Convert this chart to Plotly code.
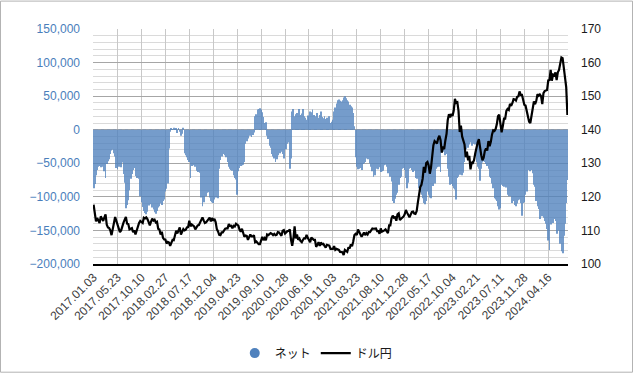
import pandas as pd
import plotly.graph_objects as go

# ---- data -------------------------------------------------------------
start_date = "2017-01-03"
n_weeks = 397
dates = pd.date_range(start_date, periods=n_weeks, freq="7D").strftime("%Y.%m.%d").tolist()

tick_labels = ["2017.01.03", "2017.05.23", "2017.10.10", "2018.02.27", "2018.07.17",
               "2018.12.04", "2019.04.23", "2019.09.10", "2020.01.28", "2020.06.16",
               "2020.11.03", "2021.03.23", "2021.08.10", "2021.12.28", "2022.05.17",
               "2022.10.04", "2023.02.21", "2023.07.11", "2023.11.28", "2024.04.16"]

# ドル円 (weekly)
usdjpy_2017 = [117.7, 115.8, 112.7, 113.7, 112.8, 112.2, 114.2, 113.5, 112.8, 113.9, 114.8, 111.7, 110.9,
               110.7, 110.0, 108.6, 111.1, 112.2, 114.0, 112.8, 111.6, 110.8, 109.5, 110.0, 111.5, 112.3,
               113.2, 114.0, 112.0, 111.9, 110.3, 110.6, 110.7, 109.5, 110.0, 108.8, 110.1, 111.5, 112.2,
               112.8, 112.5, 112.2, 113.8, 113.6, 113.9, 113.4, 112.5, 111.5, 112.6, 113.5, 112.9, 113.2]
usdjpy_2018 = [112.4, 112.6, 110.5, 110.3, 108.8, 109.6, 107.8, 107.3, 107.3, 106.1, 106.6, 106.4, 105.4,
               106.6, 107.2, 107.1, 108.8, 109.9, 109.1, 110.3, 110.9, 108.8, 109.8, 110.4, 110.0, 110.2,
               110.9, 111.0, 112.9, 111.2, 111.8, 111.4, 111.2, 110.3, 111.1, 111.5, 111.6, 112.3, 112.9,
               113.9, 113.0, 112.2, 112.4, 113.0, 113.3, 113.8, 112.7, 113.7, 112.9, 113.4, 112.5, 110.4]
usdjpy_2019 = [109.7, 108.7, 108.6, 109.4, 109.4, 109.9, 110.5, 110.6, 110.6, 111.9, 111.3, 111.4, 110.6,
               111.4, 111.2, 112.0, 111.8, 111.4, 110.2, 109.6, 110.5, 109.4, 108.1, 108.5, 108.4, 107.2,
               107.9, 108.8, 108.2, 108.2, 108.6, 106.5, 106.7, 106.3, 105.9, 105.9, 107.5, 108.1, 107.1,
               107.7, 107.1, 108.8, 108.6, 108.9, 109.2, 109.0, 108.6, 109.0, 108.6, 108.7, 109.5, 109.4,
               108.7]
usdjpy_2020 = [108.4, 109.9, 110.1, 109.1, 109.5, 109.8, 109.9, 110.3, 107.2, 105.4, 107.6, 111.2, 107.6,
               108.8, 107.2, 107.6, 106.8, 106.5, 107.2, 107.7, 107.6, 108.7, 107.8, 107.3, 106.5, 107.9,
               107.5, 107.2, 107.2, 105.1, 105.7, 106.5, 105.4, 106.4, 105.9, 106.0, 105.4, 104.9, 105.7,
               105.7, 105.5, 104.5, 104.6, 104.5, 105.3, 104.2, 104.5, 104.3, 104.2, 103.6, 103.6, 103.5]
usdjpy_2021 = [102.7, 104.2, 103.9, 103.6, 105.0, 104.6, 105.9, 105.3, 106.7, 108.6, 109.0, 108.6, 110.3,
               109.7, 109.1, 108.1, 108.7, 109.4, 108.6, 109.2, 108.8, 109.5, 109.5, 110.1, 110.6, 110.5,
               110.6, 110.6, 109.8, 109.8, 109.0, 110.6, 109.6, 109.7, 110.0, 110.3, 109.7, 109.2, 111.5,
               111.5, 113.6, 114.4, 113.8, 113.9, 112.9, 114.8, 115.1, 113.1, 113.5, 113.7, 114.1, 114.8]
usdjpy_2022 = [116.1, 115.3, 114.6, 113.9, 114.7, 115.5, 115.6, 115.0, 114.9, 115.7, 118.3, 120.8, 122.9,
               123.6, 125.4, 128.9, 127.2, 130.1, 130.4, 129.4, 126.9, 128.7, 132.6, 135.4, 136.6, 136.1,
               135.9, 137.4, 138.2, 136.9, 133.2, 135.0, 134.2, 136.8, 138.8, 142.9, 144.6, 143.7, 144.7,
               144.1, 145.7, 149.2, 148.0, 148.2, 145.6, 139.3, 141.2, 138.0, 137.0, 135.6, 131.8, 133.5]
usdjpy_2023 = [130.9, 132.2, 128.2, 130.2, 130.1, 131.0, 133.0, 134.9, 136.2, 137.2, 134.2, 132.4, 130.9,
               131.7, 133.7, 134.4, 133.8, 136.6, 135.1, 136.4, 138.6, 139.8, 139.6, 140.2, 141.6, 144.0,
               144.5, 140.8, 139.2, 141.0, 143.3, 143.3, 145.6, 146.2, 145.9, 147.7, 147.1, 147.9, 149.1,
               149.0, 148.7, 149.8, 149.9, 151.4, 150.4, 150.4, 148.4, 147.4, 147.2, 145.4, 143.8, 142.4]
usdjpy_2024 = [142.0, 144.5, 147.2, 148.4, 147.6, 148.6, 150.6, 150.1, 150.5, 150.0, 147.6, 150.9, 151.5,
               151.6, 151.8, 154.7, 154.8, 157.8, 154.6, 156.4, 156.2, 157.1, 154.8, 157.1, 157.8, 159.7,
               161.5, 161.3, 158.4, 155.6, 152.7, 144.4]

# ネット (thousand contracts, weekly)
net_2017 = [-87, -81, -68, -60, -55, -54, -56, -53, -55, -62, -72, -51, -47, -44, -36, -31, -30, -35, -40,
            -57, -59, -55, -54, -56, -49, -66, -79, -117, -112, -105, -90, -73, -66, -60, -57, -69, -72,
            -70, -73, -99, -108, -115, -121, -124, -126, -122, -113, -108, -111, -116, -119, -123]
net_2018 = [-125, -121, -116, -114, -110, -112, -106, -104, -92, -88, -80, -28, -3, 2, 1, 3, 1, 2, -5, 2,
            -3, -9, -6, 3, -35, -38, -41, -45, -48, -72, -54, -52, -53, -55, -61, -63, -60, -64, -101,
            -114, -108, -97, -99, -94, -93, -101, -106, -108, -109, -104, -101, -99]
net_2019 = [-102, -58, -45, -40, -36, -34, -38, -41, -48, -55, -58, -60, -61, -68, -72, -74, -97, -62,
            -57, -54, -53, -52, -48, -21, -17, -13, -4, -9, -11, -8, -4, 20, 23, 30, 31, 32, 30, 26, 19,
            10, 11, -9, -14, -24, -27, -36, -40, -43, -48, -44, -38, -32, -35]
net_2020 = [-33, -36, -43, -29, -29, -21, -19, -58, -43, 27, 31, 20, 23, 25, 21, 31, 22, 24, 31, 20, 18,
            15, 21, 17, 27, 26, 30, 22, 20, 16, 25, 18, 22, 27, 19, 17, 20, 16, 18, 15, 20, 10, 12, 15,
            27, 33, 39, 44, 45, 43, 42, 44]
net_2021 = [48, 50, 47, 44, 42, 37, 35, 33, 25, 5, -41, -55, -59, -58, -57, -60, -51, -50, -48, -43,
            -44, -42, -50, -55, -62, -70, -68, -58, -57, -59, -56, -63, -62, -61, -53, -52, -55, -65,
            -64, -70, -77, -106, -109, -103, -97, -94, -82, -72, -70, -58, -57, -60]
net_2022 = [-72, -87, -79, -58, -57, -60, -63, -61, -72, -73, -71, -87, -93, -97, -102, -109, -111, -106,
            -92, -97, -101, -102, -82, -84, -80, -58, -56, -53, -55, -63, -34, -33, -29, -38, -36, -58,
            -70, -82, -81, -84, -87, -89, -104, -72, -70, -67, -66, -68, -64, -48, -29, -24]
net_2023 = [-27, -22, -19, -24, -21, -20, -22, -48, -55, -58, -76, -58, -49, -47, -48, -51, -54, -58,
            -70, -72, -80, -87, -102, -104, -106, -114, -119, -117, -82, -84, -85, -82, -86, -97, -99,
            -98, -99, -109, -106, -112, -114, -110, -105, -104, -109, -128, -109, -108, -97, -92, -60, -58]
net_2024 = [-62, -60, -65, -82, -85, -106, -114, -118, -133, -126, -129, -131, -136, -140, -148, -165,
            -179, -141, -136, -139, -133, -136, -155, -143, -150, -170, -181, -184, -158, -140, -109, -75]

usdjpy = (usdjpy_2017 + usdjpy_2018 + usdjpy_2019 + usdjpy_2020 + usdjpy_2021
          + usdjpy_2022 + usdjpy_2023 + usdjpy_2024)
net = [v * 1000 for v in (net_2017 + net_2018 + net_2019 + net_2020 + net_2021
                          + net_2022 + net_2023 + net_2024)]

# ---- figure -----------------------------------------------------------
W, H = 633, 380
ML, MR, MT, MB = 93, 65, 29, 111
PW, PH = W - ML - MR, H - MT - MB

latin = "Liberation Sans, Arial, sans-serif"
jp = "Noto Sans CJK JP, sans-serif"
blue = "#4f81bd"

fig = go.Figure()
fig.add_trace(go.Bar(x=dates, y=net, name="ネット", marker=dict(color=blue, line=dict(width=0)),
                     opacity=0.78, showlegend=False, yaxis="y"))
fig.add_trace(go.Scatter(x=[None], y=[None], mode="markers", name="ネット",
                         marker=dict(symbol="circle", size=10, color=blue)))
fig.add_trace(go.Scatter(x=dates, y=usdjpy, mode="lines", name="ドル円",
                         line=dict(color="black", width=2.2), yaxis="y2"))

fig.update_layout(
    width=W, height=H, autosize=False,
    margin=dict(l=ML, r=MR, t=MT, b=MB),
    paper_bgcolor="white", plot_bgcolor="white",
    bargap=0.3,
    font=dict(family=latin, size=12, color="#404040"),
    xaxis=dict(type="category", tickmode="array", tickvals=tick_labels, ticktext=tick_labels,
               tickangle=-45, showgrid=True, gridcolor="#c8c8c8", gridwidth=1,
               showline=True, linecolor="black", linewidth=1.5, ticks="",
               range=[-0.5, n_weeks - 0.5], zeroline=False,
               tickfont=dict(family=latin, size=12, color="#404040")),
    yaxis=dict(range=[-200000, 150000], dtick=50000, tickformat=",", showgrid=True,
               gridcolor="#a6a6a6", gridwidth=1, zeroline=False, showline=False,
               minor=dict(dtick=10000, showgrid=True, gridcolor="#dadada", gridwidth=1),
               ticklabelstandoff=12,
               tickfont=dict(family=latin, size=12, color="#4a7ebb")),
    yaxis2=dict(range=[100, 170], dtick=10, overlaying="y", side="right", showgrid=False,
                zeroline=False, showline=False, ticklabelstandoff=12,
                tickfont=dict(family=latin, size=12, color="#1a1a1a")),
    legend=dict(orientation="h", x=0.47, xanchor="center", y=-(360 - (MT + PH)) / PH, yanchor="middle",
                font=dict(family=jp, size=12, color="#1a1a1a"), bgcolor="rgba(0,0,0,0)"),
    shapes=[dict(type="rect", xref="paper", yref="paper",
                 x0=(0.5 - ML) / PW, x1=(W - 0.5 - ML) / PW,
                 y0=-(MB - 0.5) / PH, y1=(PH + MT - 0.5) / PH,
                 line=dict(color="#b3b3b3", width=1), fillcolor="rgba(0,0,0,0)", layer="below")],
)

page_fix = ("document.documentElement.style.margin='0';"
            "document.documentElement.style.overflow='hidden';"
            "document.body.style.margin='0';"
            "document.body.style.height='380px';"
            "document.body.style.overflow='hidden';")
fig.write_html("out.html", config={"displayModeBar": False}, post_script=page_fix)
